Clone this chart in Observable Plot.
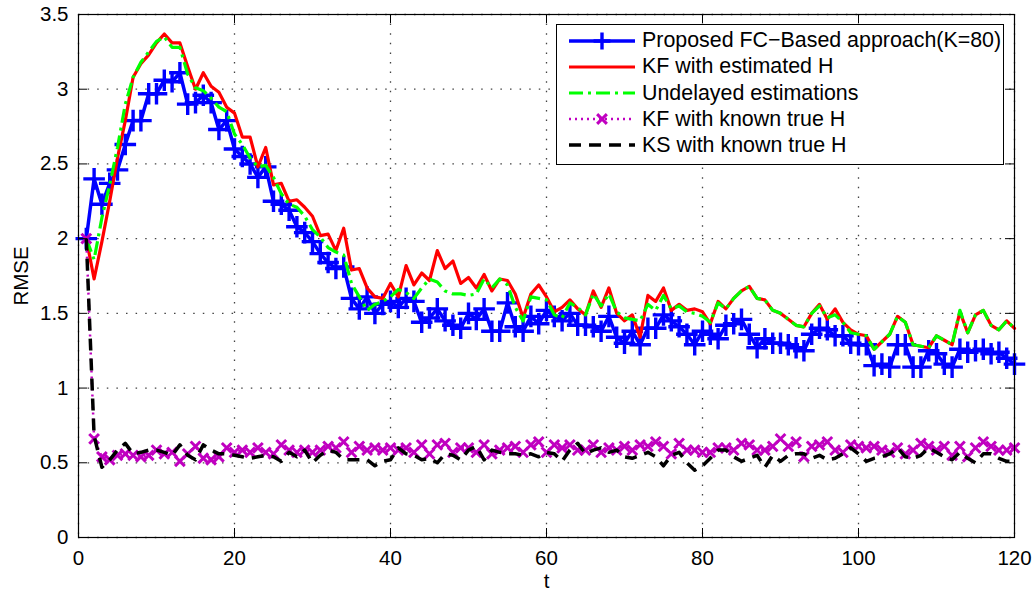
<!DOCTYPE html>
<html>
<head>
<meta charset="utf-8">
<script src="https://cdn.jsdelivr.net/npm/d3@7"></script>
<script src="https://cdn.jsdelivr.net/npm/@observablehq/plot@0.6"></script>
<style>
  html, body { margin: 0; padding: 0; background: #fff; }
  #wrap { position: relative; width: 1036px; height: 590px; font-family: "Liberation Sans", Arial, Helvetica, sans-serif; }
  #legend { position: absolute; left: 556px; top: 24px; width: 446px; height: 136px; border: 1px solid #000; background: #fff; padding-top: 3px; box-sizing: content-box; }
  .row { display: flex; align-items: center; height: 26.1px; }
  .row svg { margin-left: 12px; flex: none; }
  .row span { margin-left: 7px; font-size: 21.4px; color: #000; white-space: nowrap; line-height: 1; }
</style>
</head>
<body>
<div id="wrap"><div id="legend"></div></div>
<script>
// ---- data ----
const xTicks = [0, 20, 40, 60, 80, 100, 120];
const yTicks = [0, 0.5, 1, 1.5, 2, 2.5, 3, 3.5];

const seriesNames = [
  "Proposed FC\u2212Based approach(K=80)",
  "KF with estimated H",
  "Undelayed estimations",
  "KF with known true H",
  "KS with known true H"
];

const proposedFC = [
  2.00, 2.40, 2.23, 2.37, 2.46, 2.63, 2.79, 2.79, 2.97, 2.97,
  3.06, 3.05, 3.11, 2.90, 2.91, 2.96, 2.91, 2.73, 2.79, 2.60,
  2.55, 2.50, 2.41, 2.48, 2.25, 2.23, 2.19, 2.08, 2.04, 1.98,
  1.90, 1.84, 1.80, 1.81, 1.60, 1.53, 1.61, 1.50, 1.56, 1.58,
  1.54, 1.60, 1.58, 1.44, 1.47, 1.53, 1.45, 1.42, 1.40, 1.50,
  1.46, 1.53, 1.38, 1.38, 1.57, 1.41, 1.38, 1.48, 1.43, 1.52,
  1.48, 1.45, 1.50, 1.42, 1.42, 1.41, 1.38, 1.48, 1.34, 1.30,
  1.38, 1.29, 1.40, 1.40, 1.49, 1.45, 1.41, 1.36, 1.29, 1.38,
  1.36, 1.33, 1.42, 1.43, 1.46, 1.36, 1.27, 1.33, 1.30, 1.30,
  1.29, 1.27, 1.25, 1.36, 1.40, 1.39, 1.35, 1.35, 1.30, 1.29,
  1.29, 1.15, 1.16, 1.14, 1.29, 1.29, 1.14, 1.14, 1.25, 1.23,
  1.16, 1.14, 1.26, 1.24, 1.25, 1.26, 1.23, 1.24, 1.20, 1.16
];

const kfEstimatedH = [
  2.00, 1.73, 1.98, 2.25, 2.54, 2.79, 3.08, 3.17, 3.23, 3.31,
  3.37, 3.31, 3.31, 3.15, 3.00, 3.11, 3.02, 2.98, 2.88, 2.84,
  2.68, 2.68, 2.48, 2.61, 2.36, 2.37, 2.25, 2.26, 2.21, 2.15,
  2.02, 2.03, 1.92, 2.07, 1.79, 1.80, 1.67, 1.61, 1.60, 1.70,
  1.61, 1.82, 1.69, 1.77, 1.72, 1.92, 1.80, 1.85, 1.70, 1.74,
  1.67, 1.76, 1.65, 1.73, 1.72, 1.63, 1.47, 1.63, 1.69, 1.61,
  1.51, 1.54, 1.59, 1.53, 1.49, 1.65, 1.54, 1.67, 1.50, 1.45,
  1.49, 1.34, 1.62, 1.58, 1.67, 1.52, 1.56, 1.52, 1.53, 1.51,
  1.43, 1.58, 1.53, 1.60, 1.65, 1.68, 1.60, 1.59, 1.52, 1.50,
  1.46, 1.42, 1.41, 1.50, 1.56, 1.46, 1.53, 1.44, 1.39, 1.36,
  1.35, 1.26, 1.31, 1.36, 1.48, 1.44, 1.29, 1.28, 1.27, 1.35,
  1.32, 1.29, 1.51, 1.37, 1.49, 1.52, 1.42, 1.39, 1.45, 1.40
];

const undelayed = [
  2.00, 1.86, 2.14, 2.36, 2.61, 2.90, 3.08, 3.18, 3.25, 3.32,
  3.35, 3.28, 3.28, 3.10, 3.01, 2.99, 2.94, 2.88, 2.85, 2.70,
  2.63, 2.54, 2.48, 2.49, 2.41, 2.30, 2.23, 2.21, 2.15, 2.06,
  2.01, 1.94, 1.91, 1.89, 1.70, 1.61, 1.52, 1.56, 1.58, 1.61,
  1.66, 1.64, 1.60, 1.67, 1.73, 1.71, 1.65, 1.63, 1.63, 1.62,
  1.63, 1.73, 1.67, 1.73, 1.69, 1.54, 1.45, 1.61, 1.60, 1.59,
  1.49, 1.47, 1.57, 1.54, 1.49, 1.63, 1.55, 1.63, 1.51, 1.47,
  1.46, 1.45, 1.56, 1.52, 1.62, 1.53, 1.55, 1.51, 1.50, 1.48,
  1.44, 1.57, 1.53, 1.60, 1.65, 1.68, 1.60, 1.59, 1.52, 1.50,
  1.46, 1.42, 1.41, 1.50, 1.55, 1.47, 1.49, 1.44, 1.37, 1.36,
  1.35, 1.26, 1.31, 1.36, 1.48, 1.44, 1.29, 1.28, 1.27, 1.35,
  1.32, 1.29, 1.52, 1.37, 1.49, 1.52, 1.42, 1.39, 1.45, 1.40
];

const kfKnownH = [
  2.00, 0.66, 0.54, 0.52, 0.55, 0.56, 0.55, 0.54, 0.55, 0.585,
  0.56, 0.57, 0.51, 0.56, 0.61, 0.53, 0.52, 0.54, 0.60, 0.57,
  0.585, 0.57, 0.60, 0.57, 0.56, 0.62, 0.585, 0.57, 0.585, 0.57,
  0.585, 0.61, 0.60, 0.64, 0.57, 0.61, 0.585, 0.60, 0.585, 0.60,
  0.585, 0.60, 0.57, 0.62, 0.56, 0.62, 0.63, 0.57, 0.60, 0.60,
  0.57, 0.62, 0.56, 0.585, 0.60, 0.61, 0.57, 0.62, 0.64, 0.57,
  0.62, 0.60, 0.62, 0.585, 0.585, 0.62, 0.57, 0.60, 0.585, 0.61,
  0.585, 0.62, 0.61, 0.64, 0.61, 0.56, 0.63, 0.585, 0.585, 0.57,
  0.57, 0.60, 0.60, 0.585, 0.63, 0.62, 0.585, 0.585, 0.61, 0.66,
  0.61, 0.64, 0.54, 0.61, 0.62, 0.64, 0.585, 0.57, 0.62, 0.61,
  0.60, 0.61, 0.585, 0.57, 0.60, 0.56, 0.585, 0.63, 0.61, 0.585,
  0.61, 0.55, 0.61, 0.54, 0.60, 0.64, 0.61, 0.585, 0.585, 0.60
];

const ksKnownH = [
  2.00, 0.68, 0.47, 0.52, 0.585, 0.63, 0.56, 0.57, 0.585, 0.585,
  0.57, 0.55, 0.62, 0.55, 0.52, 0.62, 0.585, 0.56, 0.56, 0.55,
  0.54, 0.53, 0.54, 0.55, 0.54, 0.51, 0.57, 0.54, 0.585, 0.50,
  0.55, 0.585, 0.57, 0.52, 0.52, 0.52, 0.52, 0.48, 0.51, 0.52,
  0.60, 0.56, 0.55, 0.52, 0.53, 0.50, 0.56, 0.55, 0.52, 0.585,
  0.61, 0.52, 0.585, 0.57, 0.56, 0.56, 0.55, 0.56, 0.54, 0.57,
  0.56, 0.51, 0.585, 0.63, 0.56, 0.585, 0.60, 0.57, 0.585, 0.54,
  0.53, 0.55, 0.57, 0.54, 0.48, 0.55, 0.57, 0.50, 0.45, 0.48,
  0.53, 0.585, 0.585, 0.54, 0.51, 0.53, 0.55, 0.47, 0.55, 0.51,
  0.55, 0.56, 0.56, 0.53, 0.55, 0.52, 0.53, 0.56, 0.60, 0.56,
  0.51, 0.53, 0.54, 0.56, 0.60, 0.54, 0.53, 0.55, 0.60, 0.57,
  0.54, 0.52, 0.57, 0.53, 0.50, 0.56, 0.56, 0.53, 0.51, 0.51
];

// ---- styles ----
const styles = [
  {color: "#0000ff", width: 3.5, dash: null, symbol: "plus", r: 7, mw: 3.4, lr: 5.5},
  {color: "#ff0000", width: 3.2, dash: null, symbol: null},
  {color: "#00ff00", width: 3.2, dash: "14,5,3,5", symbol: null},
  {color: "#c000c0", width: 2.5, dash: "2,4", symbol: "times", r: 4.5, mw: 3, lr: 4.5},
  {color: "#000000", width: 3.5, dash: "12,8", symbol: null}
];
const allSeries = [proposedFC, kfEstimatedH, undelayed, kfKnownH, ksKnownH];
const asRows = vals => vals.map((v, i) => ({t: i + 1, v}));

const W = 1036, H = 590, ML = 78, MR = 22, MT = 14, MB = 53;
const innerW = W - ML - MR, innerH = H - MT - MB, TL = 9;

const marks = [
  Plot.gridX(xTicks, {stroke: "#222", strokeOpacity: 0.85, strokeWidth: 1.3, strokeDasharray: "1.5,8.1"}),
  Plot.gridY(yTicks, {stroke: "#222", strokeOpacity: 0.85, strokeWidth: 1.3, strokeDasharray: "1.5,8.1"})
];
allSeries.forEach((vals, k) => {
  const s = styles[k];
  const data = asRows(vals);
  marks.push(Plot.line(data, {x: "t", y: "v", stroke: s.color, strokeWidth: s.width,
    strokeDasharray: s.dash, strokeLinejoin: "round", strokeLinecap: s.dash ? "butt" : "round"}));
  if (s.symbol) {
    marks.push(Plot.dot(data, {x: "t", y: "v", symbol: s.symbol, r: s.r, stroke: s.color, strokeWidth: s.mw, fill: "none"}));
  }
});
marks.push(
  Plot.tickX(xTicks, {x: d => d, insetTop: innerH - TL, stroke: "#000"}),
  Plot.tickX(xTicks, {x: d => d, insetBottom: innerH - TL, stroke: "#000"}),
  Plot.tickY(yTicks, {y: d => d, insetRight: innerW - TL, stroke: "#000"}),
  Plot.tickY(yTicks, {y: d => d, insetLeft: innerW - TL, stroke: "#000"}),
  Plot.frame({stroke: "#000", strokeWidth: 1.2}),
  Plot.axisX(xTicks, {tickSize: 0, tickPadding: 13, label: "t", labelAnchor: "center", labelArrow: "none", labelOffset: 50, fontSize: 20.5}),
  Plot.axisY(yTicks, {tickSize: 0, tickPadding: 10, label: "RMSE", labelAnchor: "center", labelArrow: "none", labelOffset: 65, fontSize: 20.5, tickFormat: d => String(d)})
);

const chart = Plot.plot({
  width: W, height: H,
  marginLeft: ML, marginRight: MR, marginTop: MT, marginBottom: MB,
  x: {domain: [0, 120]},
  y: {domain: [0, 3.5]},
  style: {fontFamily: '"Liberation Sans", Arial, Helvetica, sans-serif', fontSize: "20.5px", color: "#000", background: "#fff", overflow: "visible"},
  marks
});
const wrap = document.getElementById("wrap");
wrap.insertBefore(chart, wrap.firstChild);

// ---- legend ----
const legend = document.getElementById("legend");
seriesNames.forEach((name, k) => {
  const s = styles[k];
  const row = document.createElement("div");
  row.className = "row";
  const ns = "http://www.w3.org/2000/svg";
  const svg = document.createElementNS(ns, "svg");
  svg.setAttribute("width", 66); svg.setAttribute("height", 20);
  const ln = document.createElementNS(ns, "line");
  ln.setAttribute("x1", 0); ln.setAttribute("x2", 66); ln.setAttribute("y1", 10); ln.setAttribute("y2", 10);
  ln.setAttribute("stroke", s.color); ln.setAttribute("stroke-width", s.width);
  if (s.dash) ln.setAttribute("stroke-dasharray", s.dash);
  svg.appendChild(ln);
  if (s.symbol) {
    const p = document.createElementNS(ns, "path");
    p.setAttribute("d", d3.symbol(s.symbol === "plus" ? d3.symbolPlus : d3.symbolTimes, Math.PI * s.lr * s.lr)());
    p.setAttribute("transform", "translate(33,10)");
    p.setAttribute("stroke", s.color); p.setAttribute("stroke-width", s.mw); p.setAttribute("fill", "none");
    svg.appendChild(p);
  }
  row.appendChild(svg);
  const sp = document.createElement("span");
  sp.textContent = name;
  row.appendChild(sp);
  legend.appendChild(row);
});
</script>
</body>
</html>
